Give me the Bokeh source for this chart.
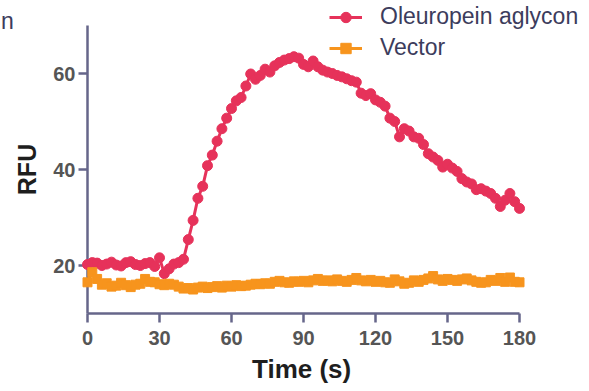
from bokeh.plotting import figure
from bokeh.models import Range1d, Legend, LegendItem, FixedTicker
from bokeh.embed import file_html
from bokeh.resources import INLINE

# ---- data ----
time_s = list(range(0, 182, 2))

aglycon = [
    20.2, 20.6, 20.5, 20.0, 20.3, 20.7, 20.1, 19.9, 20.6, 20.8,
    20.2, 20.0, 20.4, 20.6, 19.8, 21.6, 18.3, 19.3, 20.3, 20.6,
    21.3, 25.4, 29.4, 34.0, 36.5, 40.8, 43.0, 45.9, 48.5, 50.7,
    52.7, 54.3, 55.0, 57.4, 59.9, 58.8, 59.6, 60.9, 60.3, 61.6,
    62.3, 62.8, 63.1, 63.5, 63.2, 61.9, 61.4, 62.6, 61.4, 60.7,
    60.3, 60.0, 59.6, 59.3, 58.9, 58.5, 58.2, 55.9, 55.4, 55.8,
    54.5, 54.0, 53.2, 50.7, 50.0, 46.8, 48.5, 48.0, 46.8, 46.5,
    45.2, 43.3, 42.6, 41.9, 40.5, 41.1, 40.3, 39.6, 38.1, 37.4,
    37.0, 35.8, 36.0, 35.5, 35.0, 34.0, 32.3, 33.6, 35.0, 33.3,
    31.9,
]

vector = [
    16.5, 18.6, 17.2, 16.0, 16.3, 15.6, 15.8, 16.4, 15.9, 15.5,
    16.0, 16.2, 17.2, 16.6, 16.5, 16.1, 15.9, 16.2, 16.0, 15.6,
    15.2, 15.3, 15.0, 15.4, 15.6, 15.3, 15.5, 15.7, 15.4, 15.8,
    15.6, 15.9, 15.7, 15.8, 16.0, 16.2, 16.1, 16.3, 16.2, 16.6,
    16.8, 16.5, 16.4, 16.7, 16.6, 16.8, 16.5, 16.9, 17.2, 16.8,
    16.9, 16.7, 17.1, 16.8, 16.6, 17.0, 17.4, 16.9, 16.7, 17.0,
    16.6, 16.8, 16.5, 16.4, 17.1, 16.7, 16.2, 16.4, 16.9, 16.6,
    17.0, 17.3, 17.8, 17.1, 16.8, 17.2, 17.0, 16.8, 17.1, 17.3,
    16.9, 16.6, 16.4, 16.5, 17.0, 16.8, 17.4, 16.6, 17.5, 16.6,
    16.5,
]

series_names = ["Oleuropein aglycon", "Vector"]
corner_text = "n"
x_title = "Time (s)"
y_title = "RFU"
x_ticks = [0, 30, 60, 90, 120, 150, 180]
y_ticks = [20, 40, 60]
x_axis_span = (0, 180)
y_axis_span = (10, 70)

RED = "#e6325a"
ORANGE = "#f7941d"
AXIS = "#66668a"
TEXT = "#3c3c5c"

# 2.4 px per second, 4.8 px per RFU.  The frame covers the whole figure and
# both axes sit at fixed data positions (t = 0, RFU = 10).
W, H = 585, 388
p = figure(
    frame_width=W, frame_height=H,
    min_border_left=0, min_border_right=0,
    min_border_top=0, min_border_bottom=0,
    x_range=Range1d(-87 / 2.4, (W - 87) / 2.4),
    y_range=Range1d(10 - (H - 313) / 4.8, 10 + 313 / 4.8),
    output_backend="svg", toolbar_location=None,
    background_fill_color="white", border_fill_color="white",
)
p.outline_line_color = None
p.grid.visible = False

r_line = p.line(time_s, aglycon, line_color=RED, line_width=3, level="overlay")
r_pts = p.scatter(time_s, aglycon, marker="circle", size=10,
                  fill_color=RED, line_color=RED, level="overlay")
v_line = p.line(time_s, vector, line_color=ORANGE, line_width=3, level="overlay")
v_pts = p.scatter(time_s, vector, marker="square", size=9,
                  fill_color=ORANGE, line_color=ORANGE, level="overlay")
dummy = p.scatter(x=[], y=[], marker="circle", size=1, fill_alpha=0, line_alpha=0)

# axes
for ax in (p.xaxis[0], p.yaxis[0]):
    ax.axis_line_color = AXIS
    ax.axis_line_width = 2.5
    ax.major_tick_line_color = AXIS
    ax.major_tick_line_width = 2.5
    ax.major_tick_out = 9
    ax.major_tick_in = 0
    ax.minor_tick_line_color = None
    ax.major_label_text_font = "Liberation Sans"
    ax.major_label_text_font_size = "20px"
    ax.major_label_text_font_style = "bold"
    ax.major_label_text_color = "#555555"
    ax.axis_label_text_font = "Liberation Sans"
    ax.axis_label_text_font_style = "bold"
    ax.axis_label_text_color = "#1e1e1e"

p.xaxis.ticker = FixedTicker(ticks=x_ticks)
p.xaxis.bounds = x_axis_span
p.xaxis.fixed_location = y_axis_span[0]
p.xaxis.major_label_standoff = 8

p.yaxis.ticker = FixedTicker(ticks=y_ticks)
p.yaxis.bounds = y_axis_span
p.yaxis.fixed_location = x_axis_span[0]
p.yaxis.major_label_standoff = 3
p.yaxis.axis_label = y_title
p.yaxis.axis_label_text_font_size = "25px"
p.yaxis.axis_label_standoff = 9

legend = Legend(
    items=[LegendItem(label=series_names[0], renderers=[r_line, r_pts]),
           LegendItem(label=series_names[1], renderers=[v_line, v_pts])],
    location=(329, 252 + 75),
    orientation="vertical",
    glyph_width=33, glyph_height=26, label_height=26,
    label_standoff=18, spacing=4, padding=0, margin=0,
    label_text_font="Liberation Sans", label_text_font_size="23px",
    label_text_color=TEXT,
    border_line_color=None, background_fill_alpha=0,
)
p.add_layout(legend, "center")

# x-axis title, centred under the x axis (t = 90)
xtitle = Legend(
    items=[LegendItem(label=x_title, renderers=[dummy])],
    location=(251, 3),
    glyph_width=1, glyph_height=26, label_height=26,
    label_standoff=0, padding=0, margin=0,
    label_text_font="Liberation Sans", label_text_font_size="26px",
    label_text_font_style="bold", label_text_color="#1e1e1e",
    border_line_color=None, background_fill_alpha=0,
)
p.add_layout(xtitle, "center")

# cut-off letter at the top-left corner of the reference
corner = Legend(
    items=[LegendItem(label=corner_text, renderers=[dummy])],
    location=(0, 353),
    glyph_width=1, glyph_height=26, label_height=26,
    label_standoff=0, padding=0, margin=0,
    label_text_font="Liberation Sans", label_text_font_size="23px",
    label_text_color=TEXT,
    border_line_color=None, background_fill_alpha=0,
)
p.add_layout(corner, "center")

open("out.html", "w").write(file_html(p, INLINE))
